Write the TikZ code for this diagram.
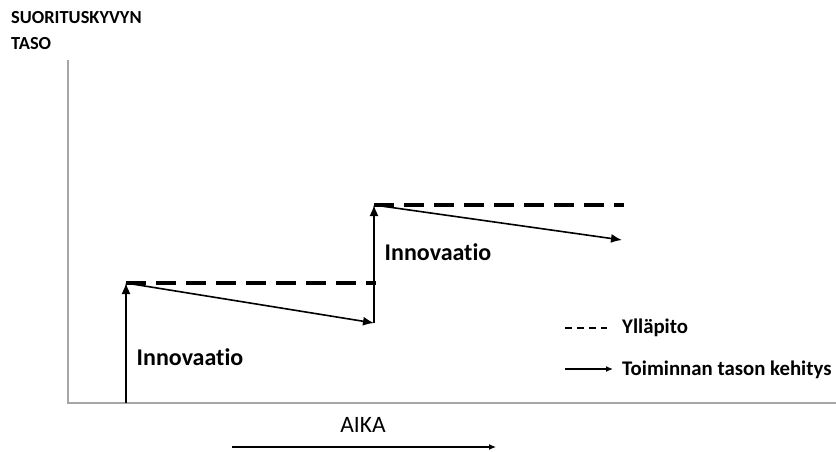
\documentclass[tikz,border=0pt]{standalone}
\usepackage{fontspec}
\setmainfont[Ligatures=NoCommon]{Carlito}
\usetikzlibrary{arrows.meta}
\begin{document}
\begin{tikzpicture}[x=1pt,y=-1pt,
  axis/.style={draw=gray!70,line width=1.6pt},
  devel/.style={draw=black,line width=1.6pt,-{Latex[length=11pt,width=9pt]}},
  keep/.style={draw=black,line width=3.5pt,dash pattern=on 20pt off 10pt},
  lbl/.style={font=\bfseries\fontsize{24}{28}\selectfont,inner sep=0pt},
  leg/.style={font=\bfseries\fontsize{20.8}{24}\selectfont,inner sep=0pt,anchor=west}]
\useasboundingbox (0,0) rectangle (836,451);
% axes
\coordinate (o) at (68,403);
\coordinate (ytop) at (68,60);
\coordinate (xend) at (836,403);
\draw[axis] (ytop) -- (o) -- (xend);
\node[font=\bfseries\fontsize{18.4}{26}\selectfont,align=left,anchor=north west,inner sep=0pt] (ylab) at (11,11) {SUORITUSKYVYN\\TASO};
% step points
\coordinate (b1) at (126,403);
\coordinate (p1) at (126,283);
\coordinate (q1) at (374,323);
\coordinate (p2) at (374,205);
\coordinate (q2) at (622,240);
\coordinate (d1) at (376,283);
\coordinate (d2) at (624,205);
% maintenance levels
\draw[keep] (p1) -- (d1);
\draw[keep] (p2) -- (d2);
% development arrows
\draw[devel] (b1) -- (p1);
\draw[devel] (p1) -- (q1);
\draw[devel] (q1) -- (p2);
\draw[devel] (p2) -- (q2);
\node[lbl] (in1) at (190,357) {Innovaatio};
\node[lbl] (in2) at (438,252) {Innovaatio};
% legend
\coordinate (l1a) at (565,328);
\coordinate (l1b) at (607,328);
\coordinate (l2a) at (565,369);
\coordinate (l2b) at (613,369);
\draw[line width=1.5pt,dash pattern=on 7pt off 5pt] (l1a) -- (l1b);
\draw[line width=1.3pt,-{Latex[length=7pt,width=6pt]}] (l2a) -- (l2b);
\node[leg] (ly) at (622,328) {Ylläpito};
\node[leg] (lt) at (622,370) {Toiminnan tason kehitys};
% time axis
\node[font=\fontsize{23.5}{27}\selectfont,inner sep=0pt] (aika) at (363,425) {AIKA};
\coordinate (ta) at (232,447);
\coordinate (tb) at (496,447);
\draw[line width=1.2pt,-{Latex[length=7pt,width=6pt]}] (ta) -- (tb);
\end{tikzpicture}
\end{document}
